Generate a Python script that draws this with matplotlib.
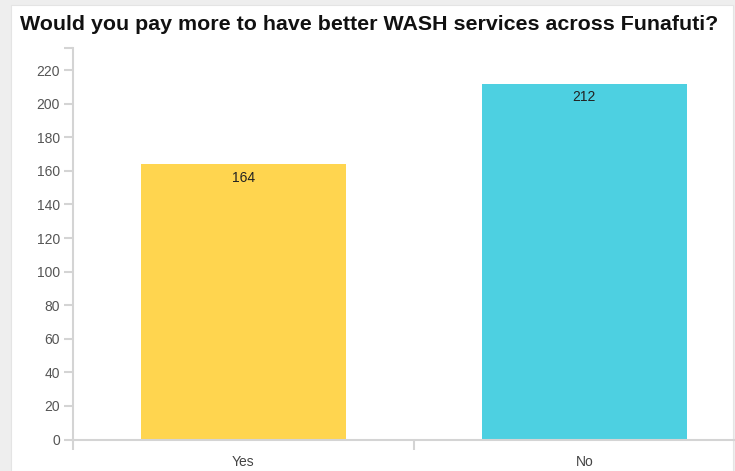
import matplotlib.pyplot as plt
from matplotlib.patches import Rectangle

# survey answers
answers = ["Yes", "No"]
counts = [164, 212]
bar_colors = ["#FFD54F", "#4DD0E1"]
yticks = list(range(0, 240, 20))

plt.rcParams['font.family'] = ['Liberation Sans', 'DejaVu Sans']

W, H = 735, 471
fig = plt.figure(figsize=(W / 100, H / 100), dpi=100, facecolor="#eeeeee")

# white card behind the chart
fig.patches.append(Rectangle((11 / W, 0), (733 - 11) / W, (H - 5) / H,
                             transform=fig.transFigure, facecolor="white",
                             edgecolor="#e4e4e4", linewidth=0.8, zorder=-5))

fig.text(20 / W, 1 - 25 / H,
         "Would you pay more to have better WASH services across Funafuti?",
         fontsize=15.4, fontweight="bold", color="#111111", va="center", ha="left")

x0, x1 = 72.5, 755
y0, y1 = 439.5, 48
ax = fig.add_axes([x0 / W, (H - y0) / H, (x1 - x0) / W, (y0 - y1) / H])
ax.set_facecolor("none")
ax.set_zorder(2)

ymax = max(counts) * 1.1
xs = list(range(len(answers)))
bars = ax.bar(xs, counts, width=0.6, color=bar_colors, zorder=2)
for x, c in zip(xs, counts):
    ax.annotate(str(c), (x, c), xytext=(0, -10), textcoords="offset points",
                ha="center", va="center", fontsize=10, color="#222222")

ax.set_xlim(-0.5, 1.5)
ax.set_ylim(0, ymax)

axis_col = "#d4d4d4"
for s in ["top", "right"]:
    ax.spines[s].set_visible(False)
for s in ["left", "bottom"]:
    ax.spines[s].set_color(axis_col)
    ax.spines[s].set_linewidth(1.5)

ax.set_yticks(yticks)
ax.set_yticks([ymax], minor=True)
ax.tick_params(axis="y", which="both", length=6.5, width=1.5, color=axis_col,
               labelsize=10, labelcolor="#555555", pad=2.5)

# category labels sit between the band boundary ticks
ax.set_xticks([-0.5, 0.5, 1.5])
ax.set_xticklabels([])
ax.set_xticks(xs, minor=True)
ax.set_xticklabels(answers, minor=True)
ax.tick_params(axis="x", which="major", length=7, width=1.5, color=axis_col)
ax.tick_params(axis="x", which="minor", length=0, labelsize=10,
               labelcolor="#444444", pad=11)

fig.savefig("out.png", dpi=100, facecolor=fig.get_facecolor())
